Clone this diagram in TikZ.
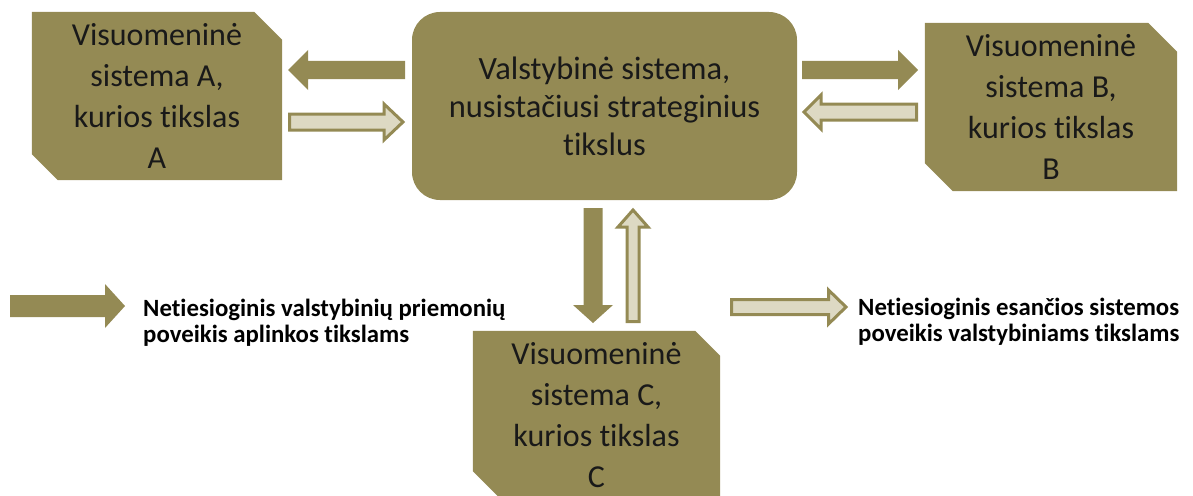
\documentclass[tikz,border=0pt]{standalone}
\usepackage{fontspec}
\setmainfont{Carlito}[Ligatures=NoCommon]
\usetikzlibrary{calc,backgrounds}

\definecolor{olivebox}{HTML}{948A54}
\definecolor{tanlight}{HTML}{DDD9C3}

\tikzset{
  % block arrow drawn as a closed outline from start to target:
  % #1 shaft half-width, #2 head half-width, #3 head length
  blockarrow/.style n args={3}{to path={
    ($(\tikztostart)!#1!90:(\tikztotarget)$)
    -- ($(\tikztotarget)!#3!(\tikztostart)!#1!-90:(\tikztostart)$)
    -- ($(\tikztotarget)!#3!(\tikztostart)!#2!-90:(\tikztostart)$)
    -- (\tikztotarget)
    -- ($(\tikztotarget)!#3!(\tikztostart)!#2!90:(\tikztostart)$)
    -- ($(\tikztotarget)!#3!(\tikztostart)!#1!90:(\tikztostart)$)
    -- ($(\tikztostart)!#1!-90:(\tikztotarget)$)
    -- cycle}},
  darkarrow/.style={fill=olivebox, draw=none},
  lightarrow/.style={fill=tanlight, draw=olivebox, line width=3pt, line join=miter},
  sidebox/.style={inner sep=0pt, minimum width=250pt, minimum height=168pt,
    align=center, text=black!90, font=\fontsize{32}{41}\selectfont},
  mainbox/.style={fill=olivebox, rounded corners=28pt, inner sep=0pt,
    minimum width=385pt, minimum height=188pt, align=center, text=black!90,
    font=\fontsize{32.5}{38}\selectfont},
  legendtext/.style={anchor=base west, inner sep=0pt, text=black,
    font=\bfseries\fontsize{24.8}{27}\selectfont},
}

% filled box with the top-right and bottom-left corners cut off
\newcommand\snipfill[3]{%
  \fill[olivebox] (#1.north west) -- ([xshift=-#2]#1.north east)
    -- ([yshift=-#2]#1.north east) -- (#1.south east)
    -- ([xshift=#3]#1.south west) -- ([yshift=#3]#1.south west) -- cycle;}

\begin{document}
\begin{tikzpicture}[x=1pt, y=-1pt]
  \clip (0,0) rectangle (1193,495);

  % boxes
  \node[mainbox] (V) at (604.5,106) {Valstybinė sistema,\\nusistačiusi strateginius\\tikslus};
  \node[sidebox, minimum width=250pt] (A) at (157,96) {Visuomeninė\\sistema A,\\kurios tikslas\\A};
  \node[sidebox, minimum width=252pt] (B) at (1051,107) {Visuomeninė\\sistema B,\\kurios tikslas\\B};
  \node[sidebox, minimum width=247pt] (C) at (596.5,415) {Visuomeninė\\sistema C,\\kurios tikslas\\C};
  \begin{pgfonlayer}{background}
    \snipfill{A}{28pt}{26pt}
    \snipfill{B}{29pt}{28pt}
    \snipfill{C}{25pt}{28pt}
  \end{pgfonlayer}

  % arrow end points
  \coordinate (vA1) at (405,70);    \coordinate (aV1) at (288,70);
  \coordinate (aV2) at (289.5,122); \coordinate (vA2) at (403,122);
  \coordinate (vB1) at (802,70);    \coordinate (bV1) at (918,70);
  \coordinate (bV2) at (916.5,112); \coordinate (vB2) at (804,112);
  \coordinate (vC1) at (593,208);   \coordinate (cV1) at (593,323);
  \coordinate (cV2) at (633,321.5); \coordinate (vC2) at (633,210);

  % influence of the state system on its surroundings
  \draw[darkarrow] (vA1) to[blockarrow={9pt}{20pt}{20pt}] (aV1);
  \draw[darkarrow] (vB1) to[blockarrow={9pt}{20pt}{20pt}] (bV1);
  \draw[darkarrow] (vC1) to[blockarrow={9.5pt}{20pt}{18pt}] (cV1);
  % influence of the surrounding systems on the state goals
  \draw[lightarrow] (aV2) to[blockarrow={8pt}{18pt}{19pt}] (vA2);
  \draw[lightarrow] (bV2) to[blockarrow={8pt}{17pt}{17pt}] (vB2);
  \draw[lightarrow] (cV2) to[blockarrow={6pt}{15pt}{17pt}] (vC2);

  % legend
  \coordinate (k1s) at (10,306);    \coordinate (k1e) at (125,306);
  \draw[darkarrow] (k1s) to[blockarrow={11pt}{22pt}{20pt}] (k1e);
  \node[legendtext] (k1a) at (143,316) {Netiesioginis valstybinių priemonių};
  \node[legendtext] (k1b) at (143,342) {poveikis aplinkos tikslams};

  \coordinate (k2s) at (731.5,307); \coordinate (k2e) at (846,307);
  \draw[lightarrow] (k2s) to[blockarrow={7.5pt}{17pt}{17.5pt}] (k2e);
  \node[legendtext] (k2a) at (858,315) {Netiesioginis esančios sistemos};
  \node[legendtext] (k2b) at (858,341) {poveikis valstybiniams tikslams};
\end{tikzpicture}
\end{document}
